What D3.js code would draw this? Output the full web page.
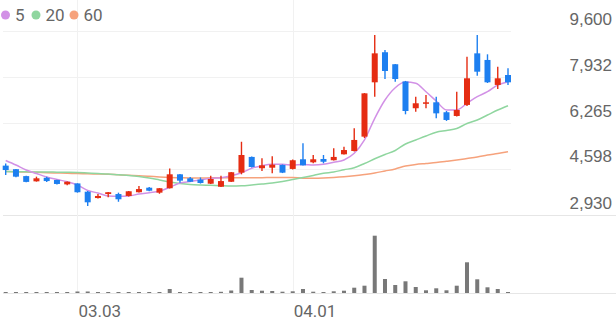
<!DOCTYPE html>
<html>
<head>
<meta charset="utf-8">
<script src="https://cdn.jsdelivr.net/npm/d3@7"></script>
<style>
  html, body { margin: 0; padding: 0; background: #fff; }
  svg { display: block; font-family: Roboto, "Noto Sans", sans-serif; }
</style>
</head>
<body>
<div id="svg-container"></div>
<script>
/** Trading days shown on the chart */
const dates = [
  "02.19","02.22","02.23","02.24","02.25","02.26","03.02","03.03","03.04","03.05",
  "03.08","03.09","03.10","03.11","03.12","03.15","03.16","03.17","03.18","03.19",
  "03.22","03.23","03.24","03.25","03.26","03.29","03.30","03.31","04.01","04.02",
  "04.05","04.06","04.07","04.08","04.09","04.12","04.13","04.14","04.15","04.16",
  "04.19","04.20","04.21","04.22","04.23","04.26","04.27","04.28","04.29","04.30"
];

/** Price series */
const opens = [
  4720,4590,4340,4150,4280,4200,4040,4075,3775,3545,
  3690,3690,3620,3755,3920,3740,3900,4405,4260,4215,
  4065,3955,4135,4465,5035,4625,4645,4745,4600,4950,
  4840,4960,4915,5130,5250,5770,7740,8830,8395,7770,
  6800,6965,7015,6655,6520,6920,8790,8550,7645,8005
];
const highs = [
  4800,4600,4350,4320,4320,4210,4140,4080,3800,3690,
  3765,3740,3800,3980,3945,3905,4620,4415,4305,4290,
  4355,4355,4490,5585,5050,4985,5060,4760,4940,5530,
  5105,5105,5350,5405,6075,7350,9455,8910,8405,7790,
  7220,7280,7220,6700,7400,8670,9455,8755,8305,8250
];
const lows = [
  4380,4300,4120,4140,4130,4040,4005,3740,3255,3530,
  3570,3410,3600,3745,3790,3700,3890,4100,4125,4070,
  4055,3945,4125,4405,4655,4525,4440,4450,4580,4720,
  4805,4805,4905,5120,5230,5720,7220,7860,7760,6580,
  6675,6800,6435,6340,6500,6880,7980,7715,7500,7645
];
const closes = [
  4560,4320,4130,4260,4160,4055,4135,3755,3390,3620,
  3755,3500,3790,3870,3810,3900,4405,4175,4135,4090,
  4235,4160,4480,5105,4670,4730,4755,4465,4915,4730,
  4950,4860,5035,5285,5650,7340,8790,8150,7860,6700,
  6980,7015,6615,6375,6735,7885,8125,7740,7885,7740
];

/** Volume (thousand shares) */
const volumes = [
  20,20,20,20,20,20,20,30,30,20,
  20,20,20,20,20,20,80,20,20,20,
  20,24,50,306,60,46,40,26,34,80,
  26,20,34,46,106,146,1146,280,160,234,
  120,54,94,54,146,614,274,114,80,20
];

/** Moving averages */
const ma5 = [
  4906,4742,4561,4434,4308,4217,4137,4018,3818,3728,
  3619,3608,3619,3691,3738,3789,3934,4090,4144,4199,
  4260,4282,4355,4463,4623,4717,4768,4768,4743,4761,
  4743,4768,4840,4924,5166,5649,6435,7099,7545,7751,
  7704,7399,7062,6736,6736,6979,7218,7399,7642,7762
];
const ma20 = [
  4507,4500,4496,4489,4489,4482,4478,4471,4453,4435,
  4416,4387,4362,4326,4271,4199,4126,4072,4036,4018,
  4007,3992,3981,3989,4018,4054,4090,4144,4217,4289,
  4362,4442,4489,4569,4645,4797,4967,5123,5269,5504,
  5649,5794,5928,5993,6066,6247,6374,6555,6736,6892
];
const ma60 = [
  4507,4496,4489,4478,4464,4453,4442,4435,4423,4416,
  4406,4387,4369,4355,4333,4308,4289,4279,4271,4271,
  4277,4279,4279,4280,4282,4284,4286,4288,4288,4264,
  4264,4271,4289,4315,4351,4398,4453,4525,4598,4706,
  4761,4797,4833,4877,4924,4978,5033,5105,5160,5224
];

/** Axis ticks */
const yTicks = [2930, 4598, 6265, 7932, 9600];
const xTickLabels = ["03.03", "04.01"];

/** Legend */
const legendNames = ["5", "20", "60"];
const legendColors = ["#d291e6", "#8fd69f", "#f6a27c"];

const upColor = "#e52c12";
const downColor = "#1d7ff0";

drawSvg();

function drawSvg() {
  const w = 616;
  const h = 321;

  const svg = d3.select("div#svg-container")
    .append("svg")
    .attr("width", w)
    .attr("height", h)
  ;

  /** Scales */
  const xScale = d3.scalePoint()
    .domain(dates)
    .range([5.7, 508])
  ;
  const yScale = d3.scaleLinear()
    .domain([2930, 9600])
    .range([215, 31])
  ;
  const vScale = d3.scaleLinear()
    .domain([0, d3.max(volumes)])
    .range([293, 235.7])
  ;

  const idx = d3.range(dates.length);

  /** Grid */
  const grid = svg.append("g").attr("id", "grid");

  grid.selectAll("line.h")
    .data(yTicks)
    .enter()
    .append("line")
    .attr("class", "h")
    .attr("x1", 3)
    .attr("x2", (d) => d === yTicks[0] ? w : 511)
    .attr("y1", (d) => Math.round(yScale(d)) + 0.5)
    .attr("y2", (d) => Math.round(yScale(d)) + 0.5)
    .attr("stroke", (d) => d === yTicks[0] ? "#e6e6e6" : "#f1f1f1")
  ;

  grid.selectAll("line.v")
    .data(xTickLabels)
    .enter()
    .append("line")
    .attr("class", "v")
    .attr("x1", (d) => Math.round(xScale(d)) + 0.5)
    .attr("x2", (d) => Math.round(xScale(d)) + 0.5)
    .attr("y1", 0)
    .attr("y2", 293)
    .attr("stroke", "#f1f1f1")
  ;

  // volume baseline
  grid.append("line")
    .attr("x1", 3)
    .attr("x2", w)
    .attr("y1", 293.5)
    .attr("y2", 293.5)
    .attr("stroke", "#e6e6e6")
  ;

  /** Y axis labels (right side) */
  const yAxis = d3.axisRight(yScale)
    .tickValues(yTicks)
    .tickFormat(d3.format(","))
    .tickSize(0)
  ;
  svg.append("g")
    .attr("id", "y-axis")
    .attr("transform", "translate(612,0)")
    .call(yAxis)
    .call((g) => g.select(".domain").remove())
    .selectAll("text")
    .attr("x", 0)
    .attr("dy", "-7")
    .attr("text-anchor", "end")
    .attr("fill", "#666")
    .style("font-size", "17px")
  ;

  /** X axis labels */
  svg.append("g")
    .attr("id", "x-axis")
    .selectAll("text")
    .data(xTickLabels)
    .enter()
    .append("text")
    .attr("x", (d) => xScale(d) + 1)
    .attr("y", 317)
    .attr("fill", "#666")
    .style("font-size", "17px")
    .text((d) => d)
  ;

  /** Moving average lines */
  const line = (arr) => d3.line()
    .x((i) => xScale(dates[i]))
    .y((i) => yScale(arr[i]))
    .curve(d3.curveMonotoneX)(idx);

  const mas = svg.append("g").attr("id", "ma");
  [ma60, ma20, ma5].forEach((arr, k) => {
    mas.append("path")
      .attr("d", line(arr))
      .attr("fill", "none")
      .attr("stroke", legendColors[2 - k])
      .attr("stroke-width", 1.5)
    ;
  });

  /** Candles */
  const candles = svg.append("g").attr("id", "candles")
    .selectAll("g")
    .data(idx)
    .enter()
    .append("g")
  ;
  candles.append("line")
    .attr("x1", (i) => xScale(dates[i]))
    .attr("x2", (i) => xScale(dates[i]))
    .attr("y1", (i) => yScale(highs[i]))
    .attr("y2", (i) => yScale(lows[i]))
    .attr("stroke", (i) => closes[i] >= opens[i] ? upColor : downColor)
    .attr("stroke-width", 1.4)
  ;
  candles.append("rect")
    .attr("x", (i) => xScale(dates[i]) - 3)
    .attr("width", 6)
    .attr("y", (i) => yScale(Math.max(opens[i], closes[i])))
    .attr("height", (i) => Math.max(1.5, Math.abs(yScale(opens[i]) - yScale(closes[i]))))
    .attr("fill", (i) => closes[i] >= opens[i] ? upColor : downColor)
  ;

  /** Volume bars */
  svg.append("g").attr("id", "volume")
    .selectAll("rect")
    .data(idx)
    .enter()
    .append("rect")
    .attr("x", (i) => xScale(dates[i]) - 2)
    .attr("width", 4)
    .attr("y", (i) => vScale(volumes[i]))
    .attr("height", (i) => 293 - vScale(volumes[i]))
    .attr("fill", "#787878")
  ;

  /** Legend */
  const legendX = [5.5, 36, 74];
  const legend = svg.append("g").attr("id", "legend")
    .selectAll("g")
    .data(legendNames)
    .enter()
    .append("g")
    .attr("transform", (d, k) => "translate(" + legendX[k] + ",15)")
  ;
  legend.append("circle")
    .attr("r", 4.5)
    .attr("fill", (d, k) => legendColors[k])
  ;
  legend.append("text")
    .attr("x", 9.5)
    .attr("y", 6)
    .attr("fill", "#666")
    .style("font-size", "17px")
    .text((d) => d)
  ;
}
</script>
</body>
</html>
